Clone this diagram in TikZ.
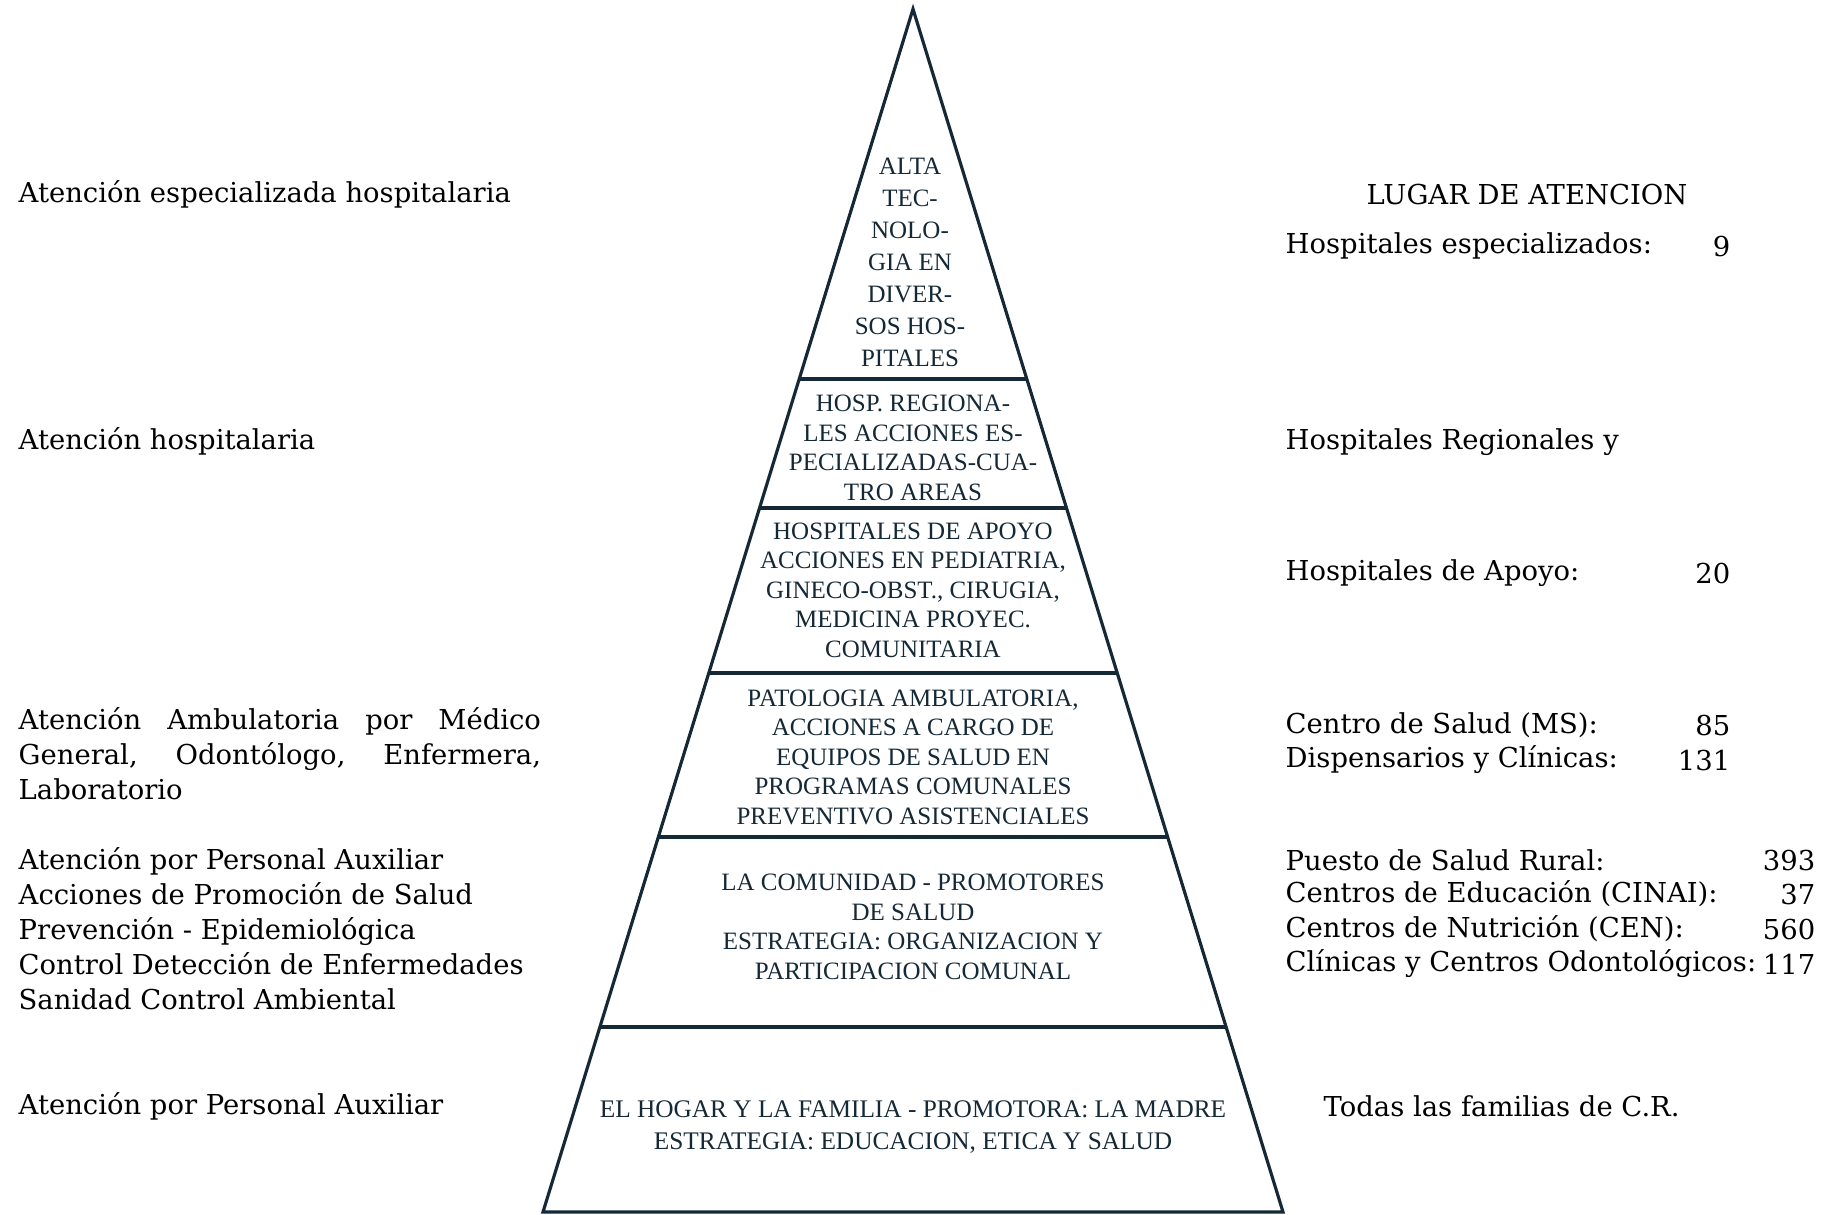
\documentclass[tikz,border=0pt]{standalone}
\usepackage{fontspec}
\setmainfont{DejaVu Serif}
\newfontfamily\pyrfont{Liberation Serif}
\usepackage{tikz}
\usetikzlibrary{positioning,calc}
\definecolor{pyrline}{RGB}{20,40,54}

\begin{document}
\begin{tikzpicture}[x=0.01cm, y=-0.01cm,
    lbl/.style={anchor=west, inner sep=0pt, align=left, font=\fontsize{7.8}{9.96}\selectfont},
    num/.style={anchor=east, inner sep=0pt, font=\fontsize{7.8}{9.96}\selectfont},
    pyrtxt/.style={align=center, inner sep=0pt, text=pyrline, font=\pyrfont\fontsize{7.1}{8.4}\selectfont}]
    \useasboundingbox (0,0) rectangle (1830,1214);

    % Pyramid outline
    \coordinate (apex) at (913,9);
    \coordinate (bl) at (543,1212);
    \coordinate (br) at (1283,1212);
    \draw [pyrline, line width=0.9pt] (bl) -- (apex) -- (br) -- cycle;

    % Level dividers
    \foreach \y in {379, 508, 673, 837, 1027} {
        \pgfmathsetmacro{\hw}{0.3076*(\y-9)}
        \draw [pyrline, line width=0.9pt] (913-\hw,\y) -- (913+\hw,\y);
    }

    % Pyramid levels
    \node[pyrtxt, font=\pyrfont\fontsize{7.1}{9.1}\selectfont] (alta) at (910,262) {ALTA\\TEC-\\NOLO-\\GIA EN\\DIVER-\\SOS HOS-\\PITALES};
    \node[pyrtxt] (regional) at (913,448) {HOSP. REGIONA-\\LES ACCIONES ES-\\PECIALIZADAS-CUA-\\TRO AREAS};
    \node[pyrtxt] (apoyo) at (913,590) {HOSPITALES DE APOYO\\ACCIONES EN PEDIATRIA,\\GINECO-OBST., CIRUGIA,\\MEDICINA PROYEC.\\COMUNITARIA};
    \node[pyrtxt] (ambul) at (913,757) {PATOLOGIA AMBULATORIA,\\ACCIONES A CARGO DE\\EQUIPOS DE SALUD EN\\PROGRAMAS COMUNALES\\PREVENTIVO ASISTENCIALES};
    \node[pyrtxt] (comunidad) at (913,927) {LA COMUNIDAD - PROMOTORES\\DE SALUD\\ESTRATEGIA: ORGANIZACION Y\\PARTICIPACION COMUNAL};
    \node[pyrtxt, font=\pyrfont\fontsize{7.2}{9.3}\selectfont] (hogar) at (913,1127) {EL HOGAR Y LA FAMILIA - PROMOTORA: LA MADRE\\ESTRATEGIA: EDUCACION, ETICA Y SALUD};

    % Left column
    \node[lbl] (lespec) at (18,194) {Atención especializada hospitalaria};
    \node[lbl] (lhosp) at (18,441) {Atención hospitalaria};
    \node[lbl] (lambul) at (18,754) {\makebox[5.22cm][s]{Atención Ambulatoria por Médico}\\\makebox[5.22cm][s]{General, Odontólogo, Enfermera,}\\Laboratorio};
    \node[lbl] (laux) at (18,929) {Atención por Personal Auxiliar\\Acciones de Promoción de Salud\\Prevención - Epidemiológica\\Control Detección de Enfermedades\\Sanidad Control Ambiental};
    \node[lbl] (lhogar) at (18,1106) {Atención por Personal Auxiliar};

    % Right column
    \node[lbl, anchor=center] (lugar) at (1527,195) {LUGAR DE ATENCION};
    \node[lbl] (rhosreg) at (1285,442) {Hospitales Regionales y};
    \foreach \y/\txt/\n in {246/Hospitales especializados:/9, 573/Hospitales de Apoyo:/20,
        725/Centro de Salud (MS):/85, 760/Dispensarios y Clínicas:/131} {
        \node[lbl] at (1285,\y) {\txt};
        \node[num] at (1731,\y) {\n};
    }
    \foreach \y/\txt/\n in {860/Puesto de Salud Rural:/393, 894/Centros de Educación (CINAI):/37,
        929/Centros de Nutrición (CEN):/560, 964/Clínicas y Centros Odontológicos:/117} {
        \node[lbl] at (1285,\y) {\txt};
        \node[num] at (1816,\y) {\n};
    }
    \node[lbl] (rtodas) at (1323,1106) {Todas las familias de C.R.};
\end{tikzpicture}
\end{document}
